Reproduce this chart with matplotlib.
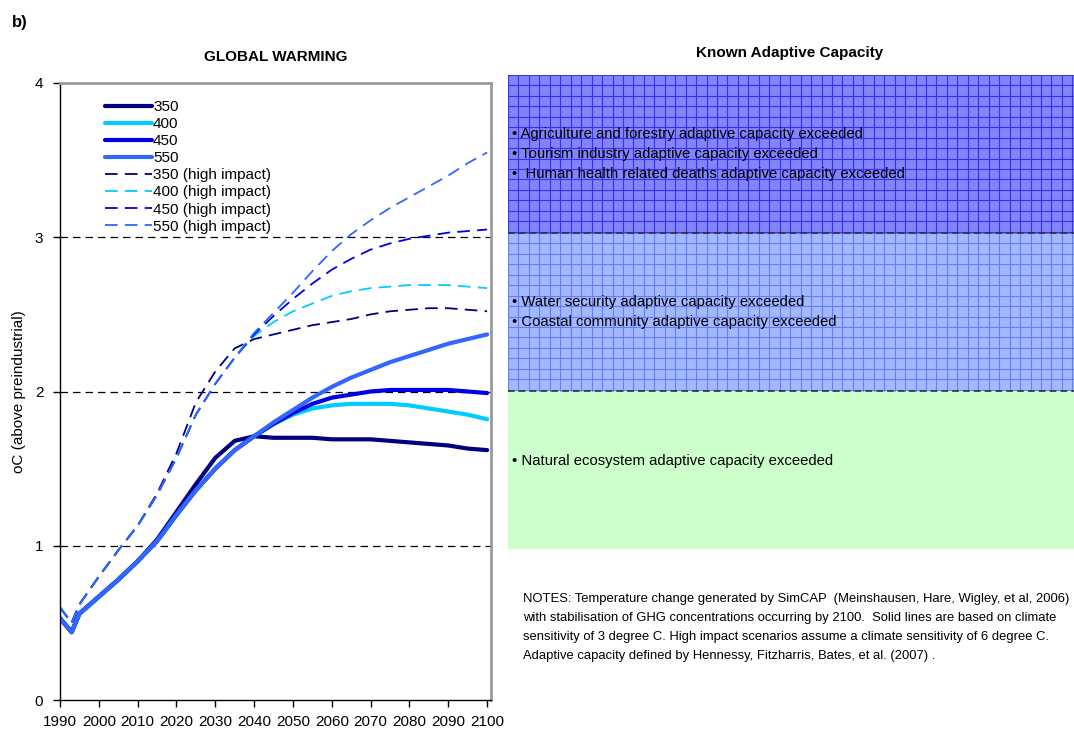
import matplotlib
matplotlib.use("Agg")
import matplotlib.pyplot as plt
from matplotlib.patches import Rectangle
import numpy as np

plt.rcParams['font.family'] = ['Liberation Sans', 'DejaVu Sans']

years = [1990, 1993, 1995, 2000, 2005, 2010, 2015, 2020, 2025, 2030, 2035, 2040,
         2045, 2050, 2055, 2060, 2065, 2070, 2075, 2080, 2085, 2090, 2095, 2100]

# climate sensitivity 3 degC
t350 = [0.53, 0.44, 0.56, 0.67, 0.78, 0.90, 1.04, 1.22, 1.40, 1.57, 1.68, 1.71,
        1.70, 1.70, 1.70, 1.69, 1.69, 1.69, 1.68, 1.67, 1.66, 1.65, 1.63, 1.62]
t400 = [0.53, 0.44, 0.56, 0.67, 0.78, 0.90, 1.03, 1.20, 1.36, 1.50, 1.62, 1.71,
        1.79, 1.85, 1.89, 1.91, 1.92, 1.92, 1.92, 1.91, 1.89, 1.87, 1.85, 1.82]
t450 = [0.53, 0.44, 0.56, 0.67, 0.78, 0.90, 1.03, 1.20, 1.36, 1.50, 1.62, 1.71,
        1.79, 1.86, 1.92, 1.96, 1.98, 2.00, 2.01, 2.01, 2.01, 2.01, 2.00, 1.99]
t550 = [0.53, 0.44, 0.56, 0.67, 0.78, 0.90, 1.03, 1.20, 1.36, 1.50, 1.62, 1.71,
        1.80, 1.88, 1.96, 2.03, 2.09, 2.14, 2.19, 2.23, 2.27, 2.31, 2.34, 2.37]

# climate sensitivity 6 degC (high impact)
h350 = [0.60, 0.50, 0.62, 0.80, 0.97, 1.13, 1.34, 1.60, 1.93, 2.13, 2.28, 2.34,
        2.37, 2.40, 2.43, 2.45, 2.47, 2.50, 2.52, 2.53, 2.54, 2.54, 2.53, 2.52]
h400 = [0.60, 0.50, 0.62, 0.80, 0.97, 1.13, 1.33, 1.57, 1.85, 2.05, 2.22, 2.36,
        2.45, 2.52, 2.57, 2.62, 2.65, 2.67, 2.68, 2.69, 2.69, 2.69, 2.68, 2.67]
h450 = [0.60, 0.50, 0.62, 0.80, 0.97, 1.13, 1.33, 1.57, 1.85, 2.05, 2.22, 2.37,
        2.49, 2.60, 2.70, 2.79, 2.86, 2.92, 2.96, 2.99, 3.01, 3.03, 3.04, 3.05]
h550 = [0.60, 0.50, 0.62, 0.80, 0.97, 1.13, 1.33, 1.57, 1.85, 2.05, 2.22, 2.38,
        2.51, 2.64, 2.78, 2.91, 3.02, 3.11, 3.19, 3.26, 3.33, 3.40, 3.48, 3.55]

labels = ["350", "400", "450", "550"]
colors = ["#000080", "#00ccff", "#0000e6", "#3366ff"]
solid = [t350, t400, t450, t550]
dashed = [h350, h400, h450, h550]

xticks = list(range(1990, 2101, 10))
yticks = [0, 1, 2, 3, 4]

# (fill colour, grid colour, text offset in px, bullet lines) from bottom to top
bands = [
    ("#ccffcc", None, 9, [" Natural ecosystem adaptive capacity exceeded"]),
    ("#a3b8ff", "#6580f5", 0, [" Water security adaptive capacity exceeded",
                               " Coastal community adaptive capacity exceeded"]),
    ("#8383fa", "#3434f0", 0, [" Agriculture and forestry adaptive capacity exceeded",
                               " Tourism industry adaptive capacity exceeded",
                               "  Human health related deaths adaptive capacity exceeded"]),
]

notes = ("NOTES: Temperature change generated by SimCAP  (Meinshausen, Hare, Wigley, et al, 2006)\n"
         "with stabilisation of GHG concentrations occurring by 2100.  Solid lines are based on climate\n"
         "sensitivity of 3 degree C. High impact scenarios assume a climate sensitivity of 6 degree C.\n"
         "Adaptive capacity defined by Hennessy, Fitzharris, Bates, et al. (2007) .")

W, H = 1074, 733
fig = plt.figure(figsize=(W / 100, H / 100), dpi=100)

# ---- left panel: temperature trajectories ----
ax = fig.add_axes([60 / W, (H - 700) / H, (491 - 60) / W, (700 - 83) / H])
for lab, c, ys in zip(labels, colors, solid):
    ax.plot(years, ys, color=c, lw=3.0, label=lab, solid_capstyle="round")
for lab, c, ys in zip(labels, colors, dashed):
    ax.plot(years, ys, color=c, lw=1.3, ls=(0, (7, 4)), label=lab + " (high impact)")

for g in (1, 2, 3):
    ax.axhline(g, color="black", lw=0.9, ls=(0, (6, 4)), zorder=0)

ax.set_xlim(1990, 2101)
ax.set_ylim(0, 4)
ax.set_xticks(xticks)
ax.set_xticklabels([str(x) for x in xticks], fontsize=11)
ax.set_yticks(yticks)
ax.set_yticklabels([str(y) for y in yticks], fontsize=11)
ax.tick_params(direction="out", length=5, width=1, pad=6, axis="x")
ax.tick_params(direction="out", length=5, width=1, pad=7, axis="y")
for s in ("top", "right"):
    ax.spines[s].set_color("#9a9a9a")
    ax.spines[s].set_linewidth(2)
for s in ("left", "bottom"):
    ax.spines[s].set_color("black")
    ax.spines[s].set_linewidth(1)
ax.set_ylabel("oC (above preindustrial)", fontsize=11, labelpad=6)
ax.set_title("GLOBAL WARMING", fontsize=11, fontweight="bold", pad=16)

leg = ax.legend(loc="upper left", bbox_to_anchor=(0.09, 0.982), frameon=False,
                fontsize=11, handlelength=3.1, handletextpad=0.05,
                labelspacing=0.2, borderaxespad=0)

# ---- right panel: adaptive capacity bands ----
rx0, rx1, ry0, ry1 = 508, 1074, 75, 549
ra = fig.add_axes([rx0 / W, (H - ry1) / H, (rx1 - rx0) / W, (ry1 - ry0) / H])
ra.set_xlim(0, rx1 - rx0)
ra.set_ylim(0, ry1 - ry0)
ra.axis("off")
band_h = (ry1 - ry0) / 3.0
step = 10.45
for i, (fc, gc, off, texts) in enumerate(bands):
    y0 = i * band_h
    ra.add_patch(Rectangle((0, y0), rx1 - rx0, band_h, facecolor=fc,
                           edgecolor="none", zorder=0))
    if gc is not None:
        for xv in np.arange(0, rx1 - rx0, step):
            ra.plot([xv, xv], [y0, y0 + band_h], color=gc, lw=0.8, zorder=1)
        for yv in np.arange(y0 + band_h, y0, -step):
            ra.plot([0, rx1 - rx0], [yv, yv], color=gc, lw=0.8, zorder=1)
    n = len(texts)
    yc = y0 + band_h / 2 + off
    for j, t in enumerate(texts):
        ra.text(4, yc - (j - (n - 1) / 2) * 20, "\u2022" + t, fontsize=10.7,
                va="center", ha="left", zorder=3)
for yb in (band_h, 2 * band_h):
    ra.plot([0, rx1 - rx0], [yb, yb], color="#333333", lw=1.2,
            ls=(0, (4, 2.5)), zorder=2)

fig.text(790 / W, 1 - 53 / H, "Known Adaptive Capacity", fontsize=11,
         fontweight="bold", ha="center", va="center")
fig.text(12 / W, 1 - 22 / H, "b)", fontsize=12, fontweight="bold",
         ha="left", va="center")
fig.text(523 / W, 1 - 593 / H, notes, fontsize=9.38, ha="left", va="top",
         linespacing=1.79)

fig.savefig("out.png", dpi=100)
